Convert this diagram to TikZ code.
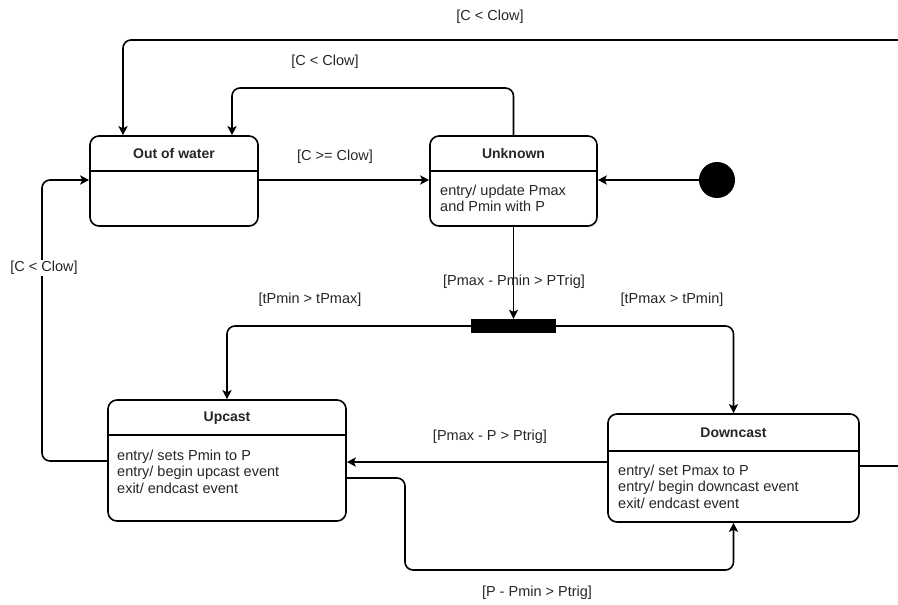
\documentclass[tikz,border=0pt]{standalone}
\usepackage{fontspec}
\setmainfont{Liberation Sans}
\usetikzlibrary{arrows.meta}
\begin{document}
\begin{tikzpicture}[x=1pt,y=-1pt,
  box/.style={draw, line width=1.6pt, rounded corners=9pt, fill=white, inner sep=0pt},
  ttl/.style={font=\fontsize{14}{16}\selectfont\bfseries, text=black!85},
  body/.style={font=\fontsize{14.5}{16.5}\selectfont, text=black!85, align=left, anchor=north west, inner sep=0pt},
  lbl/.style={font=\fontsize{14.5}{16}\selectfont, text=black!85, inner sep=1pt},
  arr/.style={line width=1.6pt, rounded corners=8pt, -{Stealth[length=9pt,width=9pt,inset=2pt]}},
  ln/.style={line width=1.6pt}]
\useasboundingbox (0,0) rectangle (898,605);
% states
\node[box, minimum width=168pt, minimum height=90pt] (ow) at (174,181) {};
\draw[ln] (ow.west |- 0,171) -- (ow.east |- 0,171);
\node[ttl] (owt) at (174,153) {Out of water};

\node[box, minimum width=167pt, minimum height=90pt] (un) at (513.5,181) {};
\draw[ln] (un.west |- 0,171) -- (un.east |- 0,171);
\node[ttl] (unt) at (513.5,153) {Unknown};
\node[body] (unb) at (440,184.5) {entry/ update Pmax\\and Pmin with P};

\node[box, minimum width=238pt, minimum height=121pt] (up) at (227,460.5) {};
\draw[ln] (up.west |- 0,435) -- (up.east |- 0,435);
\node[ttl] (upt) at (227,418) {Upcast};
\node[body] (upb) at (117,449.5) {entry/ sets Pmin to P\\entry/ begin upcast event\\exit/ endcast event};

\node[box, minimum width=251pt, minimum height=108pt] (dc) at (733.5,468) {};
\draw[ln] (dc.west |- 0,451) -- (dc.east |- 0,451);
\node[ttl] (dct) at (733.5,433) {Downcast};
\node[body] (dcb) at (618,464.5) {entry/ set Pmax to P\\entry/ begin downcast event\\exit/ endcast event};

% initial and fork
\node[circle, fill=black, minimum size=36pt, inner sep=0pt] (init) at (717,180) {};
\node[fill=black, minimum width=85pt, minimum height=14pt, inner sep=0pt] (bar) at (513.5,326) {};

% connectors
\draw[arr] (init) -- (un.east |- init);
\draw[arr] (ow.east |- 0,180) -- (un.west |- 0,180);
\draw[arr] (un.south) -- (bar.north);
\draw[arr] (bar.west) -| (up.north);
\draw[arr] (bar.east) -| (dc.north);
\draw[arr] (dc.west |- 0,462) -- (up.east |- 0,462);
\coordinate (c1) at (405,478);
\coordinate (c2) at (405,570);
\draw[arr] (up.east |- c1) -- (c1) -- (c2) -| (dc.south);
\coordinate (c3) at (42,461);
\draw[arr] (up.west |- c3) -- (c3) |- (ow.west |- 0,180);
\coordinate (c4) at (232,88);
\draw[arr] (un.north) |- (c4) -- (c4 |- ow.north);
\coordinate (c5) at (910,466);
\coordinate (c6) at (123,40);
\draw[arr] (dc.east |- c5) -- (c5) |- (c6) -- (c6 |- ow.north);

% labels
\node[lbl] (l1) at (490,17) {[C < Clow]};
\node[lbl] (l2) at (325,62) {[C < Clow]};
\node[lbl] (l3) at (335,157) {[C >= Clow]};
\node[lbl, fill=white] (l4) at (44,268) {[C < Clow]};
\node[lbl] (l5) at (514,282) {[Pmax - Pmin > PTrig]};
\node[lbl] (l6) at (310,300) {[tPmin > tPmax]};
\node[lbl] (l7) at (672,300) {[tPmax > tPmin]};
\node[lbl] (l8) at (490,437) {[Pmax - P > Ptrig]};
\node[lbl] (l9) at (537,593) {[P - Pmin > Ptrig]};
\end{tikzpicture}
\end{document}
